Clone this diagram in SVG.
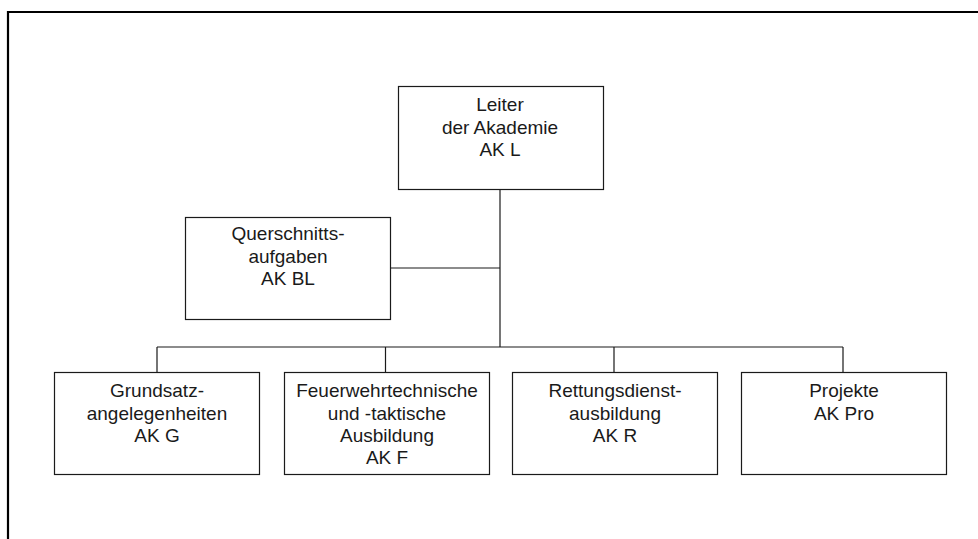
<svg xmlns="http://www.w3.org/2000/svg" width="978" height="539" viewBox="0 0 978 539">
<style>
.box{fill:#fff;stroke:#1a1a1a;stroke-width:1.2}
.ln{fill:none;stroke:#1a1a1a;stroke-width:1.2}
text{font-family:"Liberation Sans",Arial,sans-serif;font-size:19px;fill:#1a1a1a;text-anchor:middle}
</style>
<rect width="978" height="539" fill="#fff"/>
<path d="M8 539 V12 H978" fill="none" stroke="#000" stroke-width="2.2"/>
<g id="connectors">
<path class="ln" d="M500 189 V347"/>
<path class="ln" d="M390 268 H500"/>
<path class="ln" d="M157 347 H843"/>
<path class="ln" d="M157 347 V372 M385.5 347 V372 M614 347 V372 M843 347 V372"/>
</g>
<g id="leiter">
<rect class="box" x="398.5" y="86.5" width="205" height="103"/>
<text x="500" y="111">Leiter</text>
<text x="500" y="133.5">der Akademie</text>
<text x="500" y="156">AK L</text>
</g>
<g id="querschnitt">
<rect class="box" x="185.5" y="217.5" width="205" height="102"/>
<text x="288" y="240">Querschnitts-</text>
<text x="288" y="262.5">aufgaben</text>
<text x="288" y="285">AK BL</text>
</g>
<g id="grundsatz">
<rect class="box" x="54.5" y="372.5" width="205" height="102"/>
<text x="157" y="397">Grundsatz-</text>
<text x="157" y="419.5">angelegenheiten</text>
<text x="157" y="442">AK G</text>
</g>
<g id="feuerwehr">
<rect class="box" x="284.5" y="372.5" width="205" height="102"/>
<text x="387" y="397">Feuerwehrtechnische</text>
<text x="387" y="419.5">und -taktische</text>
<text x="387" y="442">Ausbildung</text>
<text x="387" y="464">AK F</text>
</g>
<g id="rettung">
<rect class="box" x="512.5" y="372.5" width="205" height="102"/>
<text x="615" y="397">Rettungsdienst-</text>
<text x="615" y="419.5">ausbildung</text>
<text x="615" y="442">AK R</text>
</g>
<g id="projekte">
<rect class="box" x="741.5" y="372.5" width="205" height="102"/>
<text x="844" y="397">Projekte</text>
<text x="844" y="419.5">AK Pro</text>
</g>
</svg>
